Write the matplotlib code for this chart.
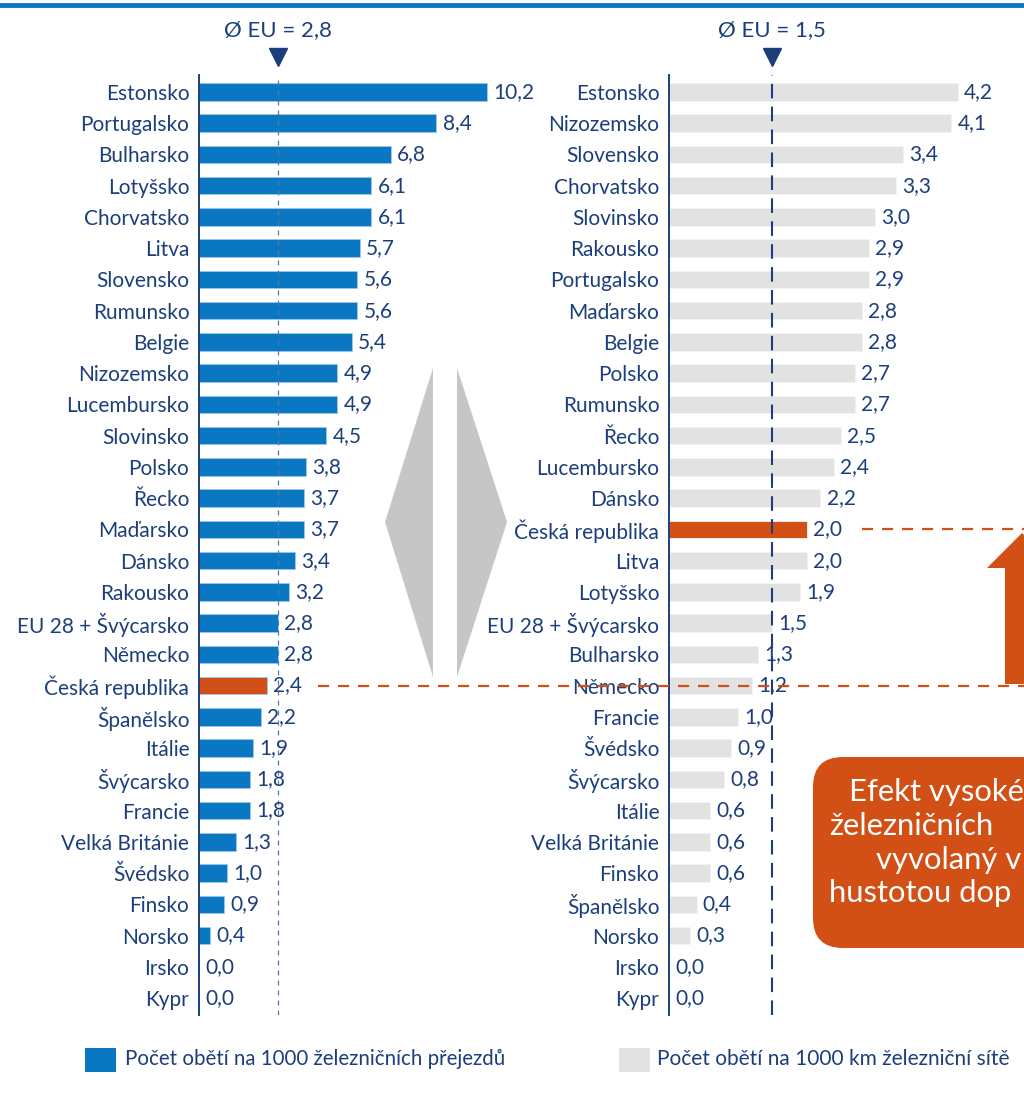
import matplotlib
matplotlib.use("Agg")
import matplotlib.pyplot as plt
from matplotlib.patches import Polygon, FancyBboxPatch, Rectangle
from matplotlib.lines import Line2D
from matplotlib.transforms import blended_transform_factory

# ---------------- data ----------------
left_countries = ["Estonsko", "Portugalsko", "Bulharsko", "Lotyšsko", "Chorvatsko", "Litva",
                  "Slovensko", "Rumunsko", "Belgie", "Nizozemsko", "Lucembursko", "Slovinsko",
                  "Polsko", "Řecko", "Maďarsko", "Dánsko", "Rakousko", "EU 28 + Švýcarsko",
                  "Německo", "Česká republika", "Španělsko", "Itálie", "Švýcarsko", "Francie",
                  "Velká Británie", "Švédsko", "Finsko", "Norsko", "Irsko", "Kypr"]
left_values = [10.2, 8.4, 6.8, 6.1, 6.1, 5.7, 5.6, 5.6, 5.4, 4.9, 4.9, 4.5, 3.8, 3.7, 3.7,
               3.4, 3.2, 2.8, 2.8, 2.4, 2.2, 1.9, 1.8, 1.8, 1.3, 1.0, 0.9, 0.4, 0.0, 0.0]

right_countries = ["Estonsko", "Nizozemsko", "Slovensko", "Chorvatsko", "Slovinsko", "Rakousko",
                   "Portugalsko", "Maďarsko", "Belgie", "Polsko", "Rumunsko", "Řecko",
                   "Lucembursko", "Dánsko", "Česká republika", "Litva", "Lotyšsko",
                   "EU 28 + Švýcarsko", "Bulharsko", "Německo", "Francie", "Švédsko",
                   "Švýcarsko", "Itálie", "Velká Británie", "Finsko", "Španělsko", "Norsko",
                   "Irsko", "Kypr"]
right_values = [4.2, 4.1, 3.4, 3.3, 3.0, 2.9, 2.9, 2.8, 2.8, 2.7, 2.7, 2.5, 2.4, 2.2, 2.0,
                2.0, 1.9, 1.5, 1.3, 1.2, 1.0, 0.9, 0.8, 0.6, 0.6, 0.6, 0.4, 0.3, 0.0, 0.0]

eu_left = 2.8
eu_right = 1.5
highlight = "Česká republika"
legend_labels = ["Počet obětí na 1000 železničních přejezdů", "Počet obětí na 1000 km železniční sítě"]
box_lines = ["Efekt vysoké", "železničních", "vyvolaný v", "hustotou dop"]

# ---------------- style ----------------
BLUE = "#0a77c2"
GRAY = "#e2e2e2"
ORANGE = "#d24f16"
NAVY = "#1c3f7c"
DIAMOND = "#c6c6c6"
FONT = "Lato"
FS = 15

plt.rcParams["font.family"] = [FONT, "DejaVu Sans"]

W, H = 1024, 1099
fig = plt.figure(figsize=(W / 100, H / 100), dpi=100)


def px(x, y):
    """pixel (from top-left) -> inches for dpi_scale_trans"""
    return (x / 100, (H - y) / 100)


AX_TOP, AX_BOT = 75, 1015
ax_bottom = 1 - AX_BOT / H
ax_h = (AX_BOT - AX_TOP) / H
axL = fig.add_axes([199 / W, ax_bottom, (540 - 199) / W, ax_h])
axR = fig.add_axes([669 / W, ax_bottom, (1024 - 669) / W, ax_h])

row_px = (998 - 92) / 29
ylim = (29 + (AX_BOT - 998) / row_px, -(92 - AX_TOP) / row_px)


def panel(ax, countries, values, base_color, xmax, eu, dash_style):
    n = len(countries)
    ys = list(range(n))
    colors = [ORANGE if c == highlight else base_color for c in countries]
    edge = ["#f4f4f4" if base_color == GRAY else "#9cc8ea" for _ in countries]
    ax.barh(ys, values, height=0.56, color=colors, edgecolor=edge, linewidth=0.6, zorder=2)
    ax.set_xlim(0, xmax)
    ax.set_ylim(*ylim)
    ax.set_yticks(ys)
    ax.set_yticklabels(countries, fontsize=FS, color=NAVY)
    ax.tick_params(axis="y", length=0, pad=7)
    ax.set_xticks([])
    for s in ["top", "right", "bottom"]:
        ax.spines[s].set_visible(False)
    ax.spines["left"].set_color(NAVY)
    ax.spines["left"].set_linewidth(1.4)
    ax.spines["left"].set_zorder(4)
    ax.patch.set_alpha(0)
    for y, v in zip(ys, values):
        ax.annotate(f"{v:.1f}".replace(".", ","), xy=(v, y), xytext=(4.5, 0),
                    textcoords="offset points", va="center", ha="left",
                    fontsize=FS, color=NAVY, zorder=5)
    ax.axvline(eu, **dash_style)
    # header
    tr = blended_transform_factory(ax.transData, fig.transFigure)
    ax.text(eu, 1 - 30 / H, f"Ø EU = {eu:.1f}".replace(".", ","), transform=tr,
            ha="center", va="center", fontsize=16, color=NAVY)
    ax.plot([eu], [1 - 57 / H], marker="v", markersize=13, color=NAVY,
            transform=tr, clip_on=False)


panel(axL, left_countries, left_values, BLUE, (540 - 199) / 28.25, eu_left,
      dict(color="#5a78a8", lw=0.9, ls=(0, (4, 4)), zorder=3))
panel(axR, right_countries, right_values, GRAY, (1024 - 669) / 68.8, eu_right,
      dict(color=NAVY, lw=1.5, ls=(0, (7, 4)), zorder=3))

# top blue rule
fig.add_artist(Line2D([0, 1], [1 - 5 / H, 1 - 5 / H], transform=fig.transFigure,
                      color=BLUE, lw=3.5))

# diamond halves
fig.add_artist(Polygon([px(433, 368), px(385, 522), px(433, 677)], closed=True,
                       transform=fig.dpi_scale_trans, facecolor=DIAMOND, edgecolor="none"))
fig.add_artist(Polygon([px(457, 368), px(507, 522), px(457, 677)], closed=True,
                       transform=fig.dpi_scale_trans, facecolor=DIAMOND, edgecolor="none"))

# orange dashed connectors
yL = left_countries.index(highlight)
trL = blended_transform_factory(fig.transFigure, axL.transData)
fig.add_artist(Line2D([318 / W, 1.0], [yL, yL], transform=trL, color=ORANGE,
                      lw=1.6, ls=(0, (5, 4)), zorder=10))
yR = right_countries.index(highlight)
trR = blended_transform_factory(fig.transFigure, axR.transData)
fig.add_artist(Line2D([862 / W, 1.0], [yR, yR], transform=trR, color=ORANGE,
                      lw=1.6, ls=(0, (5, 4)), zorder=10))

# big orange arrow (cropped at right edge)
arrow_pts = [px(1005, 684), px(1005, 568), px(987, 568), px(1022, 533),
             px(1057, 568), px(1039, 568), px(1039, 684)]
fig.add_artist(Polygon(arrow_pts, closed=True, transform=fig.dpi_scale_trans,
                       facecolor=ORANGE, edgecolor="none"))

# rounded orange box (continues beyond the right edge, as in the original)
bx0, by0 = px(813, 948)
fig.add_artist(FancyBboxPatch((bx0, by0), 3.0, (948 - 757) / 100,
                              boxstyle="round,pad=0,rounding_size=0.3",
                              transform=fig.dpi_scale_trans, facecolor=ORANGE,
                              edgecolor="none"))
line_x = [849, 829, 876, 829]
line_y = [792, 826, 860, 893]
for t, lx, ly in zip(box_lines, line_x, line_y):
    x, y = px(lx, ly)
    fig.text(x, y, t, transform=fig.dpi_scale_trans, ha="left", va="center",
             fontsize=22.3, color="white")

# legend
for (sx, tx0, label, col, fs) in [(85, 125, legend_labels[0], BLUE, 14.8),
                                  (619, 657, legend_labels[1], GRAY, 15)]:
    rx, ry = px(sx, 1072)
    fig.add_artist(Rectangle((rx, ry), 0.31, 0.24, transform=fig.dpi_scale_trans,
                             facecolor=col, edgecolor="none"))
    tx, ty = px(tx0, 1059)
    fig.text(tx, ty, label, transform=fig.dpi_scale_trans, ha="left", va="center",
             fontsize=fs, color=NAVY)

fig.savefig("out.png", dpi=100)
